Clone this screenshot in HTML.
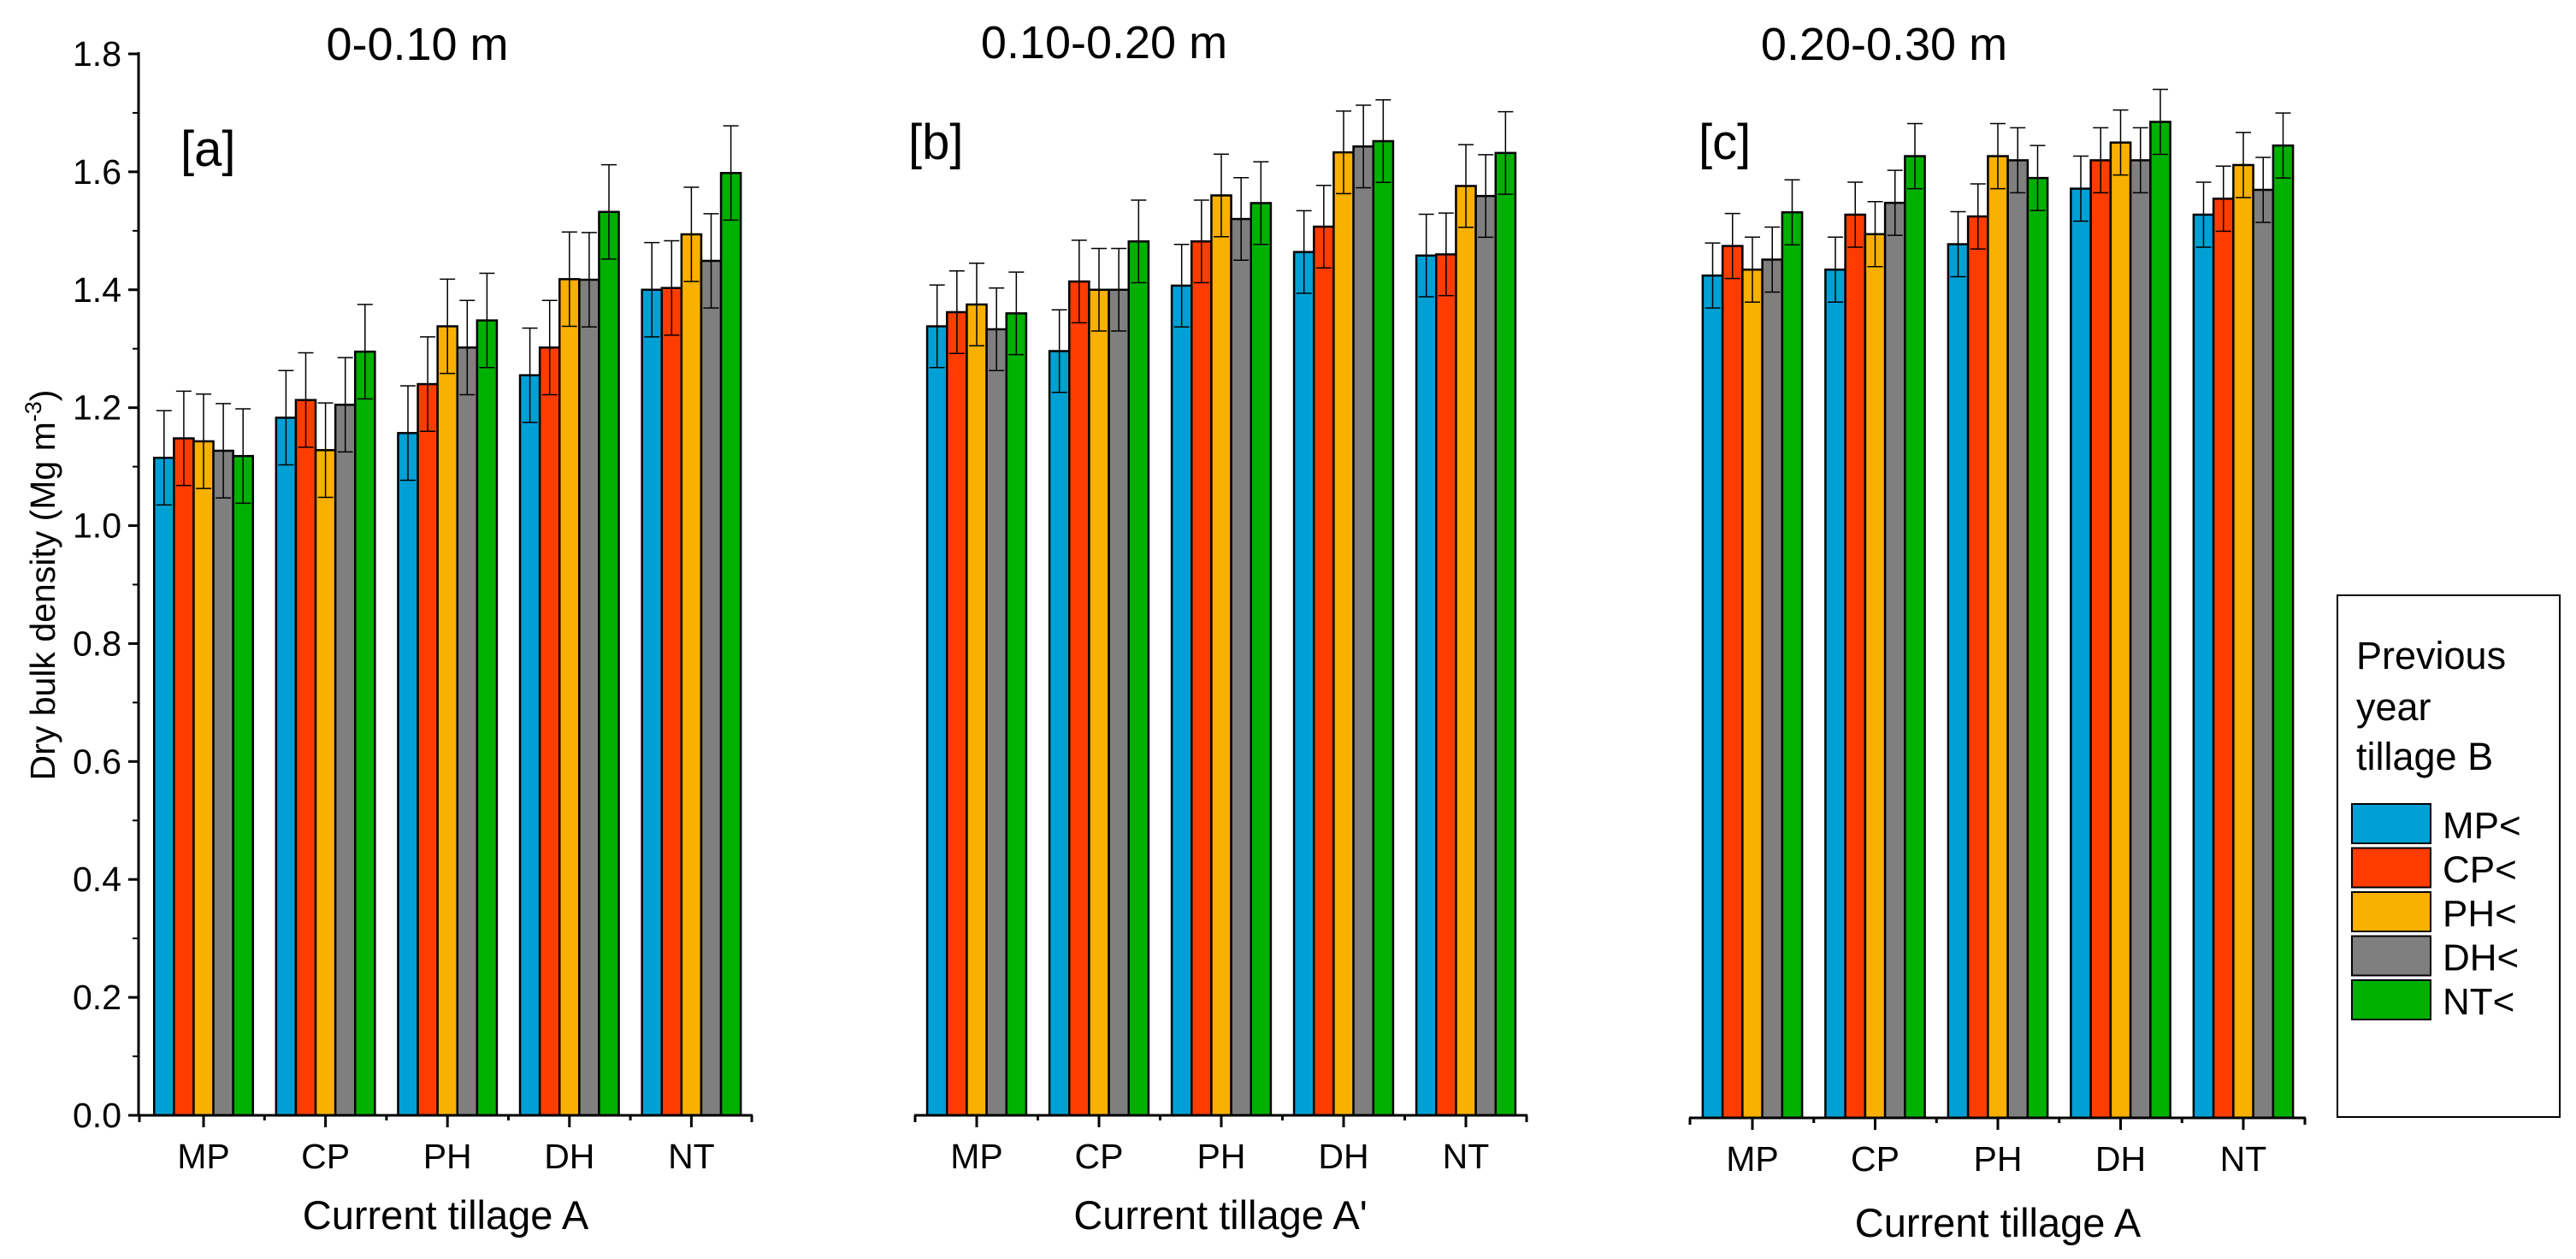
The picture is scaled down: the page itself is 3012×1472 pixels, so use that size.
<!DOCTYPE html>
<html><head><meta charset="utf-8">
<style>
html,body{margin:0;padding:0;background:#fff;}
svg{display:block;font-family:"Liberation Sans",sans-serif;}
</style></head>
<body>
<svg id="chart" width="3012" height="1472" viewBox="0 0 3012 1472" xmlns="http://www.w3.org/2000/svg">
<rect width="3012" height="1472" fill="#fff"/>
<text x="488" y="70" font-size="54" text-anchor="middle">0-0.10 m</text>
<text x="1291" y="68" font-size="54" text-anchor="middle">0.10-0.20 m</text>
<text x="2203" y="70" font-size="54" text-anchor="middle">0.20-0.30 m</text>
<text x="211" y="194" font-size="58">[a]</text>
<text x="1062" y="186" font-size="58">[b]</text>
<text x="1986" y="186" font-size="58">[c]</text>
<text transform="translate(64,684) rotate(-90)" font-size="41" text-anchor="middle">Dry bulk density (Mg m<tspan dy="-16" font-size="27">-3</tspan><tspan dy="16">)</tspan></text>
<text x="521" y="1437" font-size="47" text-anchor="middle">Current tillage A</text>
<text x="1427" y="1437" font-size="47" text-anchor="middle">Current tillage A'</text>
<text x="2336" y="1446" font-size="47" text-anchor="middle">Current tillage A</text>
<g id="legend">
<rect x="2733" y="696" width="260" height="610" fill="#fff" stroke="#000" stroke-width="2"/>
<text x="2755" y="782" font-size="45">Previous</text>
<text x="2755" y="842" font-size="45">year</text>
<text x="2755" y="900" font-size="45">tillage B</text>
</g>
<g id="plots"></g>
</svg>
<script>
const categories = ["MP","CP","PH","DH","NT"];
const seriesNames = ["MP<","CP<","PH<","DH<","NT<"];
const yTicks = ["0.0","0.2","0.4","0.6","0.8","1.0","1.2","1.4","1.6","1.8"];
const panelA = [[1.115,1.148,1.143,1.127,1.118],[1.183,1.213,1.128,1.205,1.295],[1.157,1.240,1.338,1.302,1.348],[1.255,1.302,1.418,1.417,1.532],[1.400,1.403,1.494,1.449,1.598]];
const panelAErr = [[0.08,0.08,0.08,0.08,0.08],[0.08,0.08,0.08,0.08,0.08],[0.08,0.08,0.08,0.08,0.08],[0.08,0.08,0.08,0.08,0.08],[0.08,0.08,0.08,0.08,0.08]];
const panelB = [[1.338,1.362,1.375,1.333,1.360],[1.296,1.414,1.400,1.400,1.482],[1.407,1.482,1.560,1.520,1.547],[1.464,1.507,1.633,1.643,1.652],[1.458,1.460,1.576,1.559,1.632]];
const panelBErr = [[0.07,0.07,0.07,0.07,0.07],[0.07,0.07,0.07,0.07,0.07],[0.07,0.07,0.07,0.07,0.07],[0.07,0.07,0.07,0.07,0.07],[0.07,0.07,0.07,0.07,0.07]];
const panelC = [[1.425,1.475,1.435,1.452,1.532],[1.435,1.528,1.495,1.548,1.627],[1.478,1.525,1.627,1.620,1.590],[1.572,1.620,1.650,1.620,1.685],[1.528,1.555,1.612,1.570,1.645]];
const panelCErr = [[0.055,0.055,0.055,0.055,0.055],[0.055,0.055,0.055,0.055,0.055],[0.055,0.055,0.055,0.055,0.055],[0.055,0.055,0.055,0.055,0.055],[0.055,0.055,0.055,0.055,0.055]];

const colors = ["#00a0d4","#ff3c00","#f9b000","#7f7f7f","#00b000"];
const NS = "http://www.w3.org/2000/svg";
const plots = document.getElementById('plots');
function mk(tag, attrs, parent){const e=document.createElementNS(NS,tag);for(const k in attrs)e.setAttribute(k,attrs[k]);(parent||plots).appendChild(e);return e;}

const panels = [
 {id:'a', vals:panelA, errs:panelAErr, x0:162, x1:880, c0:238, sp:142.6, y0:1304, yAxis:true},
 {id:'b', vals:panelB, errs:panelBErr, x0:1069, x1:1786, c0:1142, sp:143, y0:1304, yAxis:false},
 {id:'c', vals:panelC, errs:panelCErr, x0:1975, x1:2696, c0:2049, sp:143.5, y0:1307, yAxis:false}
];
const yTop = 63;
panels.forEach(p=>{
  const yScale = v => p.y0 - (v/1.8)*(p.y0 - yTop);
  const xCenter = i => p.c0 + i*p.sp;
  const g = mk('g',{});
  
  
  const bw = p.sp*0.81/5;
  p.vals.forEach((grp,ci)=>{
    grp.forEach((v,si)=>{
      const x = xCenter(ci) - 2.5*bw + si*bw;
      const r = mk('rect',{x:x,y:yScale(v),width:bw,height:p.y0-yScale(v),fill:colors[si],stroke:'#000','stroke-width':2.5},g);
      
      
      const e = p.errs[ci][si], cx = x+bw/2;
      const eb = mk('path',{d:`M${cx},${yScale(v+e)}V${yScale(v-e)}M${cx-9},${yScale(v+e)}h18M${cx-9},${yScale(v-e)}h18`,stroke:'#000','stroke-width':1.5,fill:'none'},g);
      
      
    });
    const lbl = mk('text',{x:xCenter(ci),y:p.y0+62,'font-size':41,'text-anchor':'middle'},g);
    lbl.textContent = categories[ci];
    
    
    mk('line',{x1:xCenter(ci),x2:xCenter(ci),y1:p.y0,y2:p.y0+14,stroke:'#000','stroke-width':3},g);
    const b = xCenter(ci)+p.sp/2;
    if(ci<4) mk('line',{x1:b,x2:b,y1:p.y0,y2:p.y0+6,stroke:'#000','stroke-width':3},g);
  });
  const xa = mk('line',{x1:p.x0,x2:p.x1,y1:p.y0,y2:p.y0,stroke:'#000','stroke-width':3},g);
  
  
  mk('line',{x1:p.x0+1,x2:p.x0+1,y1:p.y0,y2:p.y0+8,stroke:'#000','stroke-width':3},g);
  mk('line',{x1:p.x1-1,x2:p.x1-1,y1:p.y0,y2:p.y0+8,stroke:'#000','stroke-width':3},g);
  if(p.yAxis){
    const ya = mk('line',{x1:p.x0,x2:p.x0,y1:yTop-2,y2:p.y0+1,stroke:'#000','stroke-width':3},g);
    
    
    yTicks.forEach(t=>{
      const v = parseFloat(t), y = yScale(v);
      mk('line',{x1:p.x0-12,x2:p.x0,y1:y,y2:y,stroke:'#000','stroke-width':3},g);
      if(v<1.8){const ym=yScale(v+0.1); mk('line',{x1:p.x0-7,x2:p.x0,y1:ym,y2:ym,stroke:'#000','stroke-width':2},g);}
      const tl = mk('text',{x:p.x0-20,y:y+14,'font-size':41,'text-anchor':'end'},g);
      tl.textContent = t;
      
      
    });
  }
});
const leg = document.getElementById('legend');
seriesNames.forEach((n,i)=>{
  const y = 940 + i*51.5;
  const sw = mk('rect',{x:2750,y:y,width:92,height:46,fill:colors[i],stroke:'#000','stroke-width':2},leg);
  
  
  const t = mk('text',{x:2856,y:y+40,'font-size':44},leg);
  t.textContent = n;
  
  
});
</script>
</body></html>
